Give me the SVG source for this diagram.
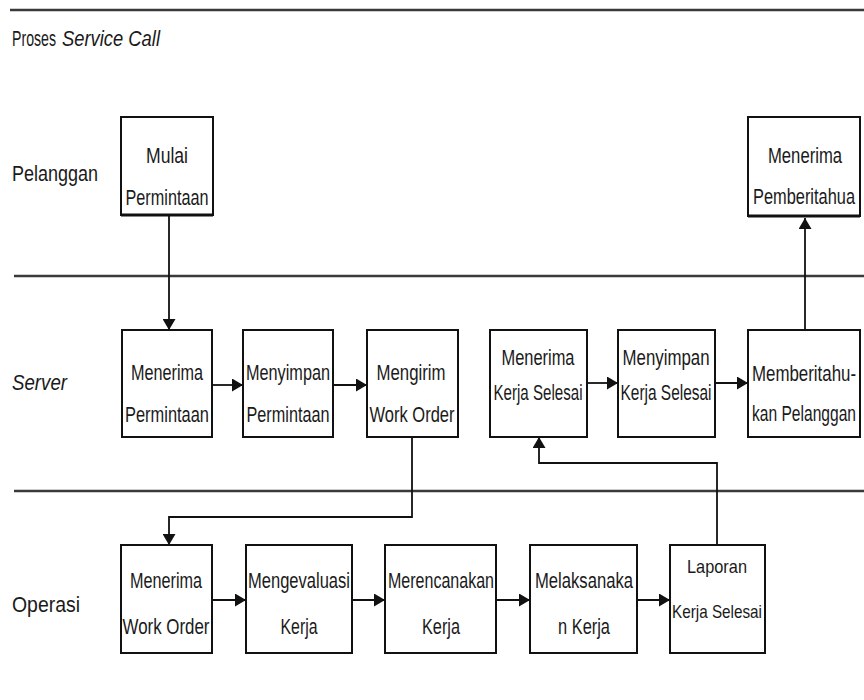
<svg xmlns="http://www.w3.org/2000/svg" width="864" height="700" viewBox="0 0 864 700">
  <style>
    .lane { stroke: #3a3a3a; stroke-width: 2.5; fill: none; }
    .box { fill: #ffffff; stroke: #111111; stroke-width: 2; }
    .shadow { stroke: #111111; stroke-width: 3; }
    .t { font-family: "Liberation Sans", Arial, sans-serif; font-size: 22px; fill: #1a1a1a; text-anchor: middle; }
    .lbl { font-family: "Liberation Sans", Arial, sans-serif; font-size: 22px; fill: #1a1a1a; }
    .conn { stroke: #111111; stroke-width: 1.8; fill: none; }
    .it { font-style: italic; }
  </style>
  <defs>
    <marker id="arr" markerUnits="userSpaceOnUse" markerWidth="12" markerHeight="13" refX="11" refY="6.5" orient="auto">
      <path d="M0,0 L11,6.5 L0,13 z" fill="#111111"/>
    </marker>
  </defs>
  <rect x="0" y="0" width="864" height="700" fill="#ffffff"/>

  <g id="lanes">
    <line class="lane" x1="10" y1="10" x2="864" y2="10"/>
    <line class="lane" x1="14" y1="276" x2="864" y2="276"/>
    <line class="lane" x1="14" y1="491" x2="864" y2="491"/>
    <text class="lbl" x="12" y="46" textLength="44" lengthAdjust="spacingAndGlyphs">Proses</text>
    <text class="lbl it" x="62" y="46" textLength="98" lengthAdjust="spacingAndGlyphs">Service Call</text>
    <text class="lbl" x="12" y="181" textLength="86" lengthAdjust="spacingAndGlyphs">Pelanggan</text>
    <text class="lbl it" x="12" y="390" textLength="55" lengthAdjust="spacingAndGlyphs">Server</text>
    <text class="lbl" x="12" y="612" textLength="68" lengthAdjust="spacingAndGlyphs">Operasi</text>
  </g>

  <g id="connectors">
    <line class="conn" x1="169" y1="216" x2="169" y2="330" marker-end="url(#arr)"/>
    <line class="conn" x1="212" y1="385" x2="243" y2="385" marker-end="url(#arr)"/>
    <line class="conn" x1="333" y1="385" x2="367" y2="385" marker-end="url(#arr)"/>
    <polyline class="conn" points="412,437 412,517 169,517 169,545" marker-end="url(#arr)"/>
    <line class="conn" x1="587" y1="383" x2="618" y2="383" marker-end="url(#arr)"/>
    <line class="conn" x1="715" y1="383" x2="748" y2="383" marker-end="url(#arr)"/>
    <line class="conn" x1="805" y1="330" x2="805" y2="218" marker-end="url(#arr)"/>
    <polyline class="conn" points="717,545 717,463 539,463 539,437" marker-end="url(#arr)"/>
    <line class="conn" x1="212" y1="600" x2="246" y2="600" marker-end="url(#arr)"/>
    <line class="conn" x1="352" y1="600" x2="385" y2="600" marker-end="url(#arr)"/>
    <line class="conn" x1="496" y1="600" x2="530" y2="600" marker-end="url(#arr)"/>
    <line class="conn" x1="637" y1="600" x2="670" y2="600" marker-end="url(#arr)"/>
  </g>

  <g id="mulai-permintaan">
    <rect class="box" x="121" y="117" width="92" height="98"/>
    <line class="shadow" x1="121" y1="215" x2="213" y2="215"/>
    <text class="t" x="167" y="163" textLength="42" lengthAdjust="spacingAndGlyphs">Mulai</text>
    <text class="t" x="167" y="205" textLength="83" lengthAdjust="spacingAndGlyphs">Permintaan</text>
  </g>

  <g id="menerima-pemberitahua">
    <rect class="box" x="748" y="117" width="112" height="99"/>
    <line class="shadow" x1="748" y1="216" x2="860" y2="216"/>
    <text class="t" x="805" y="163" textLength="74" lengthAdjust="spacingAndGlyphs">Menerima</text>
    <text class="t" x="804" y="204" textLength="102" lengthAdjust="spacingAndGlyphs">Pemberitahua</text>
  </g>

  <g id="menerima-permintaan">
    <rect class="box" x="122" y="330" width="90" height="107"/>
    <text class="t" x="167" y="380" textLength="72" lengthAdjust="spacingAndGlyphs">Menerima</text>
    <text class="t" x="167" y="422" textLength="84" lengthAdjust="spacingAndGlyphs">Permintaan</text>
  </g>

  <g id="menyimpan-permintaan">
    <rect class="box" x="243" y="330" width="90" height="107"/>
    <text class="t" x="288" y="380" textLength="84" lengthAdjust="spacingAndGlyphs">Menyimpan</text>
    <text class="t" x="288" y="422" textLength="83" lengthAdjust="spacingAndGlyphs">Permintaan</text>
  </g>

  <g id="mengirim-work-order">
    <rect class="box" x="367" y="330" width="91" height="107"/>
    <text class="t" x="411" y="380" textLength="69" lengthAdjust="spacingAndGlyphs">Mengirim</text>
    <text class="t" x="412" y="422" textLength="85" lengthAdjust="spacingAndGlyphs">Work Order</text>
  </g>

  <g id="menerima-kerja-selesai">
    <rect class="box" x="490" y="330" width="97" height="107"/>
    <text class="t" x="538" y="365" textLength="73" lengthAdjust="spacingAndGlyphs">Menerima</text>
    <text class="t" x="538" y="400" textLength="89" lengthAdjust="spacingAndGlyphs">Kerja Selesai</text>
  </g>

  <g id="menyimpan-kerja-selesai">
    <rect class="box" x="618" y="330" width="97" height="107"/>
    <text class="t" x="666" y="365" textLength="87" lengthAdjust="spacingAndGlyphs">Menyimpan</text>
    <text class="t" x="666" y="400" textLength="91" lengthAdjust="spacingAndGlyphs">Kerja Selesai</text>
  </g>

  <g id="memberitahukan-pelanggan">
    <rect class="box" x="748" y="330" width="112" height="107"/>
    <text class="t" x="804" y="381" textLength="104" lengthAdjust="spacingAndGlyphs">Memberitahu-</text>
    <text class="t" x="804" y="421" textLength="104" lengthAdjust="spacingAndGlyphs">kan Pelanggan</text>
  </g>

  <g id="menerima-work-order">
    <rect class="box" x="121" y="545" width="91" height="108"/>
    <text class="t" x="166" y="588" textLength="72" lengthAdjust="spacingAndGlyphs">Menerima</text>
    <text class="t" x="166" y="634" textLength="87" lengthAdjust="spacingAndGlyphs">Work Order</text>
  </g>

  <g id="mengevaluasi-kerja">
    <rect class="box" x="246" y="545" width="106" height="108"/>
    <text class="t" x="299" y="588" textLength="102" lengthAdjust="spacingAndGlyphs">Mengevaluasi</text>
    <text class="t" x="299" y="634" textLength="37" lengthAdjust="spacingAndGlyphs">Kerja</text>
  </g>

  <g id="merencanakan-kerja">
    <rect class="box" x="385" y="545" width="111" height="108"/>
    <text class="t" x="441" y="588" textLength="106" lengthAdjust="spacingAndGlyphs">Merencanakan</text>
    <text class="t" x="441" y="634" textLength="38" lengthAdjust="spacingAndGlyphs">Kerja</text>
  </g>

  <g id="melaksanakan-kerja">
    <rect class="box" x="530" y="545" width="107" height="108"/>
    <text class="t" x="584" y="588" textLength="98" lengthAdjust="spacingAndGlyphs">Melaksanaka</text>
    <text class="t" x="584" y="634" textLength="52" lengthAdjust="spacingAndGlyphs">n Kerja</text>
  </g>

  <g id="laporan-kerja-selesai">
    <rect class="box" x="670" y="545" width="95" height="108"/>
    <text class="t" x="717" y="573" textLength="60" lengthAdjust="spacingAndGlyphs" style="font-size:19px">Laporan</text>
    <text class="t" x="717" y="618" textLength="90" lengthAdjust="spacingAndGlyphs" style="font-size:19px">Kerja Selesai</text>
  </g>
</svg>
